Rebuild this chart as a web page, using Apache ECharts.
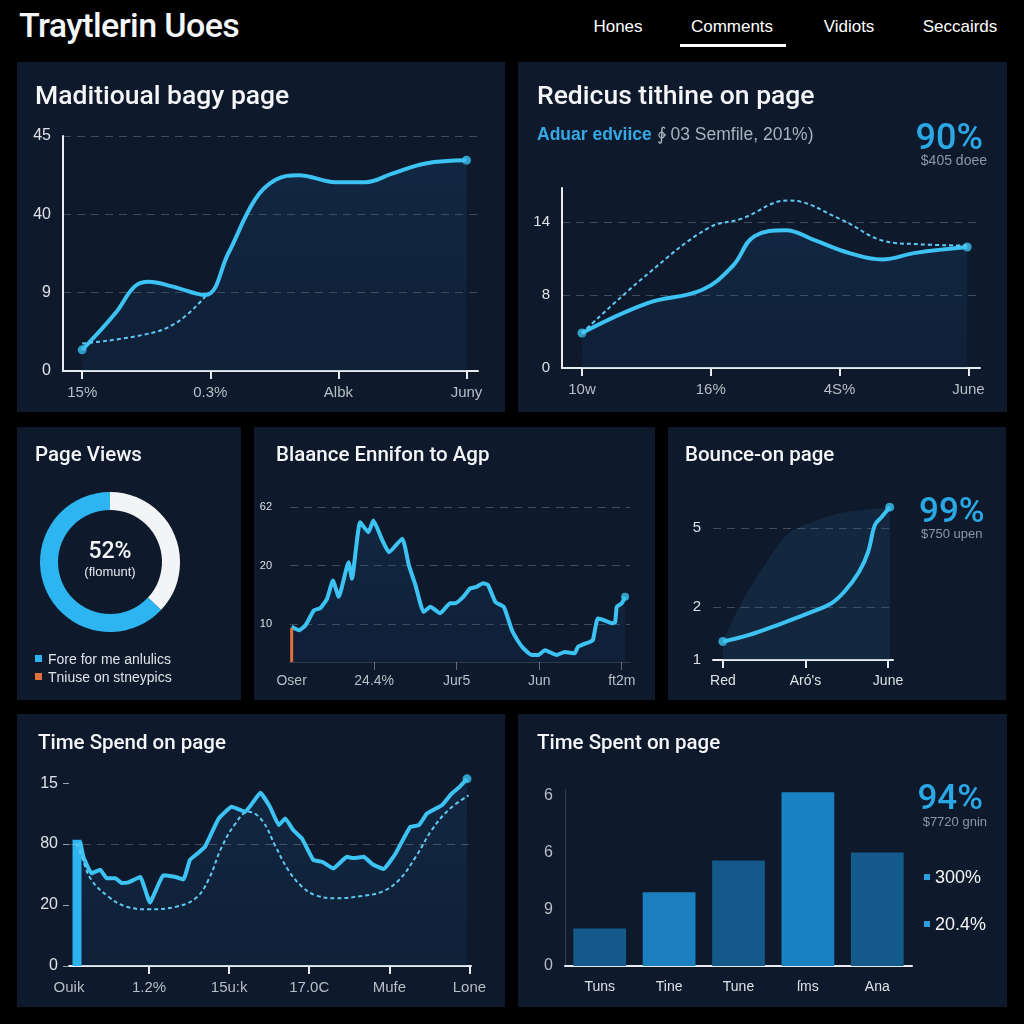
<!DOCTYPE html>
<html>
<head>
<meta charset="utf-8">
<script src="https://cdn.jsdelivr.net/npm/echarts@6/dist/echarts.min.js"></script>
<style>
  html,body{margin:0;padding:0;background:#000;width:1024px;height:1024px;overflow:hidden;font-family:"Liberation Sans",Arial,sans-serif;}
  .panel{position:absolute;background:#0e1a2b;overflow:hidden;}
  .chart{position:absolute;left:0;top:0;width:100%;height:100%;}
  .t{position:absolute;white-space:nowrap;line-height:1;z-index:2;}
  .ttl{font-family:Roboto,"Liberation Sans",sans-serif;font-weight:500;color:#f4f6f8;}
  .big{font-family:Roboto,"Liberation Sans",sans-serif;font-weight:500;color:#2aa8e6;}
  .sub{color:#8d97a3;font-size:13px;}
  .nav{position:absolute;top:18px;font-size:17px;color:#fff;white-space:nowrap;line-height:1;transform:translateX(-50%);}
  .sq{position:absolute;width:7px;height:7px;z-index:2;}
</style>
</head>
<body>
<!-- header -->
<div class="t ttl" style="left:19px;top:8px;font-size:34px;letter-spacing:-0.6px;">Traytlerin Uoes</div>
<div class="nav" style="left:618px;">Hones</div>
<div class="nav" style="left:732px;">Comments</div>
<div class="nav" style="left:849px;">Vidiots</div>
<div class="nav" style="left:960px;">Seccairds</div>
<div style="position:absolute;left:680px;top:44px;width:106px;height:3px;background:#fff;"></div>

<!-- panel 1 -->
<div class="panel" style="left:17px;top:62px;width:488px;height:350px;">
  <div class="chart" id="c1"></div>
  <div class="t ttl" style="left:18px;top:20px;font-size:26.5px;">Maditioual bagy page</div>
</div>
<!-- panel 2 -->
<div class="panel" style="left:518px;top:62px;width:489px;height:350px;">
  <div class="chart" id="c2"></div>
  <div class="t ttl" style="left:19px;top:20px;font-size:26.5px;">Redicus tithine on page</div>
  <div class="t" style="left:19px;top:64px;font-size:17.5px;color:#a9b1bb;"><span style="color:#35a9e6;font-weight:bold;">Aduar edviice</span> ∲ 03 Semfile, 201%)</div>
  <div class="t big" style="right:24px;top:57px;font-size:36px;">90%</div>
  <div class="t sub" style="right:20px;top:91px;font-size:14px;">$405 doee</div>
</div>
<!-- panel 3 -->
<div class="panel" style="left:17px;top:427px;width:224px;height:273px;">
  <div class="chart" id="c3"></div>
  <div class="t ttl" style="left:18px;top:17px;font-size:20.5px;">Page Views</div>
  <div class="t ttl" style="left:93px;top:112px;font-size:23px;transform:translateX(-50%);">52%</div>
  <div class="t" style="left:93px;top:138px;font-size:13px;color:#e6e9ed;transform:translateX(-50%);">(flomunt)</div>
  <div class="sq" style="left:18px;top:228px;background:#2cb5f0;"></div>
  <div class="t" style="left:31px;top:225px;font-size:14px;color:#dfe3e8;">Fore for me anlulics</div>
  <div class="sq" style="left:18px;top:246px;background:#e0703c;"></div>
  <div class="t" style="left:31px;top:243px;font-size:14px;color:#dfe3e8;">Tniuse on stneypics</div>
</div>
<!-- panel 4 -->
<div class="panel" style="left:254px;top:427px;width:401px;height:273px;">
  <div class="chart" id="c4"></div>
  <div class="t ttl" style="left:22px;top:17px;font-size:20.5px;">Blaance Ennifon to Agp</div>
</div>
<!-- panel 5 -->
<div class="panel" style="left:668px;top:427px;width:338px;height:273px;">
  <div class="chart" id="c5"></div>
  <div class="t ttl" style="left:17px;top:17px;font-size:20.5px;">Bounce-on page</div>
  <div class="t big" style="left:251px;top:66px;font-size:35px;">99%</div>
  <div class="t sub" style="left:253px;top:100px;">$750 upen</div>
</div>
<!-- panel 6 -->
<div class="panel" style="left:17px;top:714px;width:488px;height:293px;">
  <div class="chart" id="c6"></div>
  <div class="t ttl" style="left:21px;top:18px;font-size:20.5px;">Time Spend on page</div>
</div>
<!-- panel 7 -->
<div class="panel" style="left:518px;top:714px;width:489px;height:293px;">
  <div class="chart" id="c7"></div>
  <div class="t ttl" style="left:19px;top:18px;font-size:20.5px;">Time Spent on page</div>
  <div class="t big" style="right:24px;top:66px;font-size:35px;">94%</div>
  <div class="t sub" style="right:20px;top:101px;">$7720 gnin</div>
  <div class="sq" style="left:406px;top:160px;background:#2a9fe0;width:6px;height:6px;"></div>
  <div class="t" style="left:417px;top:154px;font-size:18px;color:#f2f4f6;">300%</div>
  <div class="sq" style="left:406px;top:207px;background:#2a9fe0;width:6px;height:6px;"></div>
  <div class="t" style="left:417px;top:201px;font-size:18px;color:#f2f4f6;">20.4%</div>
</div>

<script>
// ---------- DATA ----------
// Panel 1
const p1YLabels = ['0', '9', '40', '45'];
const p1XLabels = ['15%', '0.3%', 'Albk', 'Juny'];
const p1Main = [[0,0.27],[0.26,0.74],[0.41,1.08],[0.52,1.14],[0.70,1.08],[0.96,0.97],[1.14,1.50],[1.35,2.19],[1.51,2.44],[1.69,2.50],[1.98,2.41],[2.21,2.41],[2.42,2.52],[2.68,2.65],[3.00,2.69]];
const p1Dash = [[0,0.35],[0.47,0.46],[0.73,0.61],[0.96,0.95]];
// Panel 2
const p2YLabels = ['0', '8', '14'];
const p2XLabels = ['10w', '16%', '4S%', 'June'];
const p2Main = [[0,0.48],[0.51,0.89],[0.93,1.07],[1.17,1.40],[1.34,1.81],[1.58,1.89],[1.81,1.75],[2.07,1.58],[2.33,1.49],[2.59,1.58],[2.99,1.66]];
const p2Dash = [[0,0.48],[0.51,1.29],[0.98,1.92],[1.24,2.05],[1.60,2.30],[2.02,2.03],[2.33,1.75],[2.59,1.70],[2.99,1.68]];
// Panel 3
const p3Names = ['Other', 'Fore for me anlulics'];
const p3Values = [37, 63];
// Panel 4
const p4YLabels = ['10', '20', '62'];
const p4XLabels = ['Oser', '24.4%', 'Jur5', 'Jun', 'ft2m'];
const p4Main = [[0,-0.04],[0.09,-0.10],[0.17,-0.01],[0.27,0.24],[0.35,0.28],[0.43,0.44],[0.50,0.75],[0.57,0.47],[0.69,1.06],[0.73,0.78],[0.83,1.74],[0.93,1.57],[0.99,1.77],[1.10,1.43],[1.18,1.23],[1.34,1.46],[1.42,1.01],[1.50,0.67],[1.60,0.21],[1.68,0.30],[1.80,0.19],[1.92,0.36],[1.98,0.36],[2.08,0.47],[2.16,0.61],[2.24,0.64],[2.32,0.70],[2.38,0.67],[2.47,0.38],[2.57,0.30],[2.67,-0.10],[2.75,-0.30],[2.81,-0.41],[2.91,-0.52],[2.99,-0.52],[3.07,-0.44],[3.21,-0.52],[3.31,-0.47],[3.43,-0.49],[3.47,-0.38],[3.61,-0.30],[3.65,-0.27],[3.71,0.10],[3.79,0.07],[3.88,0.02],[3.92,0.04],[3.94,0.30],[4.00,0.36],[4.04,0.47]];
const p4Marker = [[0,-0.64],[0,-0.06]];
// Panel 5
const p5YLabels = ['1', '2', '5'];
const p5YValues = [0, 1, 2.49];
const p5XLabels = ['Red', "Aró's", 'June'];
const p5Main = [[0,0.35],[0.31,0.47],[0.71,0.69],[1.03,0.88],[1.31,1.07],[1.47,1.29],[1.65,1.67],[1.76,2.05],[1.84,2.55],[1.92,2.70],[2.02,2.89]];
const p5Area = [[0,0.35],[0.23,1.10],[0.79,2.39],[1.40,2.77],[2.02,2.89]];
// Panel 6
const p6YLabels = ['0', '20', '80', '15'];
const p6XLabels = ['Ouik', '1.2%', '15u:k', '17.0C', 'Mufe', 'Lone'];
const p6Main = [[0.14,2.04],[0.18,1.79],[0.28,1.52],[0.39,1.58],[0.47,1.44],[0.58,1.44],[0.66,1.36],[0.74,1.37],[0.89,1.46],[1.01,1.04],[1.18,1.49],[1.33,1.46],[1.43,1.42],[1.51,1.74],[1.60,1.84],[1.70,1.96],[1.78,2.18],[1.87,2.42],[2.03,2.61],[2.20,2.53],[2.39,2.84],[2.51,2.61],[2.62,2.31],[2.70,2.42],[2.80,2.23],[2.91,2.09],[3.05,1.74],[3.16,1.71],[3.30,1.60],[3.47,1.79],[3.55,1.77],[3.68,1.79],[3.80,1.66],[3.93,1.59],[4.08,1.85],[4.26,2.28],[4.37,2.31],[4.47,2.50],[4.66,2.64],[4.78,2.83],[4.87,2.93],[4.97,3.07]];
const p6Dash = [[0.10,2.01],[0.16,1.79],[0.28,1.41],[0.49,1.14],[0.70,0.98],[0.99,0.93],[1.33,0.97],[1.58,1.11],[1.74,1.41],[1.91,1.96],[2.08,2.34],[2.24,2.53],[2.41,2.39],[2.58,1.96],[2.74,1.57],[2.91,1.30],[3.08,1.16],[3.33,1.11],[3.66,1.15],[3.91,1.22],[4.12,1.41],[4.33,1.79],[4.53,2.23],[4.74,2.56],[4.99,2.80]];
const p6Bar = [[0.1, 2.07]];
const p6GridAt = 2;
// Panel 7
const p7YLabels = ['0', '9', '6', '6'];
const p7Cats = ['Tuns', 'Tine', 'Tune', 'ſms', 'Ana'];
const p7Values = [0.66, 1.30, 1.86, 3.06, 2.00];

// ---------- STYLE ----------
const LINE = '#3cc3f3';
const DASH = '#5fc9f5';
const GRID = 'rgba(255,255,255,0.22)';
const WHITE = '#e8ecf0';
const LBL = '#b8bec6';
const LBL2 = '#dde1e6';
const FONT = 'Liberation Sans, Arial, sans-serif';
const p7Colors = ['#145a8c', '#1c80c0', '#135a8b', '#1a82c3', '#145b8c'];
function area(a, b) {
  return new echarts.graphic.LinearGradient(0, 0, 0, 1, [
    {offset: 0, color: a}, {offset: 1, color: b}
  ]);
}
function mk(id, opt) {
  const c = echarts.init(document.getElementById(id), null, {renderer: 'canvas'});
  opt.animation = false;
  c.setOption(opt);
}
function ends(arr) { return [arr[0], arr[arr.length - 1]]; }
const dashed = {color: GRID, type: [8, 6], width: 1};
const fill = () => area('rgba(32,90,150,0.30)', 'rgba(25,70,125,0.22)');

// Panel 1
mk('c1', {
  grid: {left: 46, right: 27, top: 74, bottom: 41},
  xAxis: {type: 'value', min: -0.15, max: 3.09,
    axisLine: {onZero: false, lineStyle: {color: WHITE, width: 2}},
    axisTick: {customValues: [0,1,2,3], length: 8, lineStyle: {color: WHITE, width: 2}},
    axisLabel: {customValues: [0,1,2,3], formatter: v => p1XLabels[Math.round(v)], color: LBL, fontSize: 15, fontFamily: FONT, margin: 14},
    splitLine: {show: false}},
  yAxis: {type: 'value', min: 0, max: 3, interval: 1,
    axisLine: {show: true, onZero: false, lineStyle: {color: WHITE, width: 2}},
    axisTick: {show: false},
    axisLabel: {formatter: v => p1YLabels[v] ?? '', color: LBL2, fontSize: 16, fontFamily: FONT, margin: 12},
    splitLine: {show: true, showMinLine: false, lineStyle: dashed}},
  series: [
    {type: 'line', data: p1Main, smooth: 0.4, symbol: 'none', lineStyle: {color: LINE, width: 4}, areaStyle: {color: fill()}},
    {type: 'line', data: p1Dash, smooth: 0.4, symbol: 'none', lineStyle: {color: DASH, width: 2, type: [4, 3]}},
    {type: 'scatter', data: ends(p1Main), symbolSize: 9, itemStyle: {color: LINE}}
  ]
});

// Panel 2
mk('c2', {
  grid: {left: 44, right: 27, top: 126, bottom: 44},
  xAxis: {type: 'value', min: -0.155, max: 3.09,
    axisLine: {onZero: false, lineStyle: {color: WHITE, width: 2}},
    axisTick: {customValues: [0,1,2,3], length: 8, lineStyle: {color: WHITE, width: 2}},
    axisLabel: {customValues: [0,1,2,3], formatter: v => p2XLabels[Math.round(v)], color: LBL, fontSize: 15, fontFamily: FONT, margin: 14},
    splitLine: {show: false}},
  yAxis: {type: 'value', min: 0, max: 2.47, interval: 1,
    axisLine: {show: true, onZero: false, lineStyle: {color: WHITE, width: 2}},
    axisTick: {show: false},
    axisLabel: {formatter: v => p2YLabels[v] ?? '', color: LBL2, fontSize: 15, fontFamily: FONT, margin: 12},
    splitLine: {show: true, showMinLine: false, showMaxLine: false, lineStyle: dashed}},
  series: [
    {type: 'line', data: p2Main, smooth: 0.4, symbol: 'none', lineStyle: {color: LINE, width: 4}, areaStyle: {color: fill()}},
    {type: 'line', data: p2Dash, smooth: 0.4, symbol: 'none', lineStyle: {color: DASH, width: 2, type: [4, 3]}},
    {type: 'scatter', data: ends(p2Main), symbolSize: 9, itemStyle: {color: LINE}}
  ]
});

// Panel 3
mk('c3', {
  series: [{type: 'pie', center: [93, 135], radius: [52, 70], startAngle: 90, clockwise: true,
    label: {show: false}, labelLine: {show: false}, silent: true,
    data: p3Names.map((n, i) => ({name: n, value: p3Values[i]})),
    color: ['#f2f4f6', '#2cb5f0'], itemStyle: {borderWidth: 0}}]
});

// Panel 4
mk('c4', {
  grid: {left: 36, right: 25, top: 80, bottom: 38},
  xAxis: {type: 'value', min: -0.02, max: 4.1,
    axisLine: {onZero: false, lineStyle: {color: 'rgba(255,255,255,0.15)', width: 1}},
    axisTick: {customValues: [1,2,3,4], length: 8, lineStyle: {color: 'rgba(255,255,255,0.35)', width: 1}},
    axisLabel: {customValues: [0,1,2,3,4], formatter: v => p4XLabels[Math.round(v)], color: LBL, fontSize: 14, fontFamily: FONT, margin: 12},
    splitLine: {show: false}},
  yAxis: {type: 'value', min: -0.64, max: 2,
    axisLine: {show: false, onZero: false},
    axisTick: {show: false, customValues: [0,1,2]},
    axisLabel: {customValues: [0,1,2], formatter: v => p4YLabels[Math.round(v)], color: LBL2, fontSize: 11, fontFamily: FONT, margin: 18},
    splitLine: {show: true, lineStyle: dashed}},
  series: [
    {type: 'line', data: p4Main, smooth: 0.15, symbol: 'none', lineStyle: {color: LINE, width: 4},
     areaStyle: {origin: 'start', color: fill()}},
    {type: 'line', data: p4Marker, symbol: 'none', lineStyle: {color: '#e0703c', width: 3}},
    {type: 'scatter', data: [p4Main[p4Main.length - 1]], symbolSize: 8, itemStyle: {color: LINE}}
  ]
});

// Panel 5
mk('c5', {
  grid: {left: 45, right: 113, top: 77, bottom: 40},
  xAxis: {type: 'value', min: -0.12, max: 2.06,
    axisLine: {onZero: false, lineStyle: {color: WHITE, width: 2}},
    axisTick: {customValues: [0,1,2], length: 8, lineStyle: {color: WHITE, width: 2}},
    axisLabel: {customValues: [0,1,2], formatter: v => p5XLabels[Math.round(v)], color: LBL2, fontSize: 14, fontFamily: FONT, margin: 14},
    splitLine: {show: false}},
  yAxis: {type: 'value', min: 0, max: 2.95,
    axisLine: {show: false, onZero: false},
    axisTick: {show: false, customValues: p5YValues},
    axisLabel: {customValues: p5YValues, formatter: v => p5YLabels[p5YValues.indexOf(v)] ?? '', color: LBL2, fontSize: 15, fontFamily: FONT, margin: 12},
    splitLine: {show: true, showMinLine: false, lineStyle: dashed}},
  series: [
    {type: 'line', data: p5Area, smooth: 0.2, symbol: 'none', lineStyle: {width: 0, opacity: 0},
     areaStyle: {color: 'rgba(40,95,150,0.28)'}},
    {type: 'line', data: p5Main, smooth: 0.4, symbol: 'none', lineStyle: {color: LINE, width: 4}},
    {type: 'scatter', data: ends(p5Main), symbolSize: 9, itemStyle: {color: LINE}}
  ]
});

// Panel 6
mk('c6', {
  grid: {left: 52, right: 34, top: 63, bottom: 41},
  xAxis: {type: 'value', min: 0, max: 5.02,
    axisLine: {onZero: false, lineStyle: {color: WHITE, width: 2}},
    axisTick: {customValues: [1,2,3,4,5], length: 8, lineStyle: {color: WHITE, width: 2}},
    axisLabel: {customValues: [0,1,2,3,4,5], formatter: v => p6XLabels[Math.round(v)], color: LBL, fontSize: 15, fontFamily: FONT, margin: 14},
    splitLine: {show: false}},
  yAxis: {type: 'value', min: 0, max: 3.1,
    axisLine: {show: false, onZero: false},
    axisTick: {show: true, customValues: [0,1,2,3], length: 6, lineStyle: {color: '#9aa3ad'}},
    axisLabel: {customValues: [0,1,2,3], formatter: v => p6YLabels[Math.round(v)], color: LBL2, fontSize: 16, fontFamily: FONT, margin: 11},
    splitLine: {show: false}},
  series: [
    {type: 'bar', data: p6Bar, barWidth: 9, itemStyle: {color: '#2db3ef'}, z: 3},
    {type: 'line', data: p6Main, smooth: 0.1, symbol: 'none', lineStyle: {color: LINE, width: 4},
     areaStyle: {color: fill()},
     markLine: {silent: true, symbol: 'none', label: {show: false}, lineStyle: dashed, data: [{yAxis: p6GridAt}]}},
    {type: 'line', data: p6Dash, smooth: 0.4, symbol: 'none', lineStyle: {color: DASH, width: 2, type: [4, 3]}},
    {type: 'scatter', data: [p6Main[p6Main.length - 1]], symbolSize: 9, itemStyle: {color: LINE}}
  ]
});

// Panel 7
mk('c7', {
  grid: {left: 47, right: 95, top: 76, bottom: 41},
  xAxis: {type: 'category', data: p7Cats,
    axisLine: {onZero: false, lineStyle: {color: WHITE, width: 2}},
    axisTick: {show: false},
    axisLabel: {color: LBL2, fontSize: 14, fontFamily: FONT, margin: 14}},
  yAxis: {type: 'value', min: 0, max: 3.1,
    axisLine: {show: true, onZero: false, lineStyle: {color: 'rgba(255,255,255,0.15)'}},
    axisTick: {show: false, customValues: [0,1,2,3]},
    axisLabel: {customValues: [0,1,2,3], formatter: v => p7YLabels[Math.round(v)], color: LBL, fontSize: 16, fontFamily: FONT, margin: 12},
    splitLine: {show: false}},
  series: [{type: 'bar', barWidth: '76%',
    data: p7Values.map((v, i) => ({value: v, itemStyle: {color: p7Colors[i]}}))}]
});
</script>
</body>
</html>
